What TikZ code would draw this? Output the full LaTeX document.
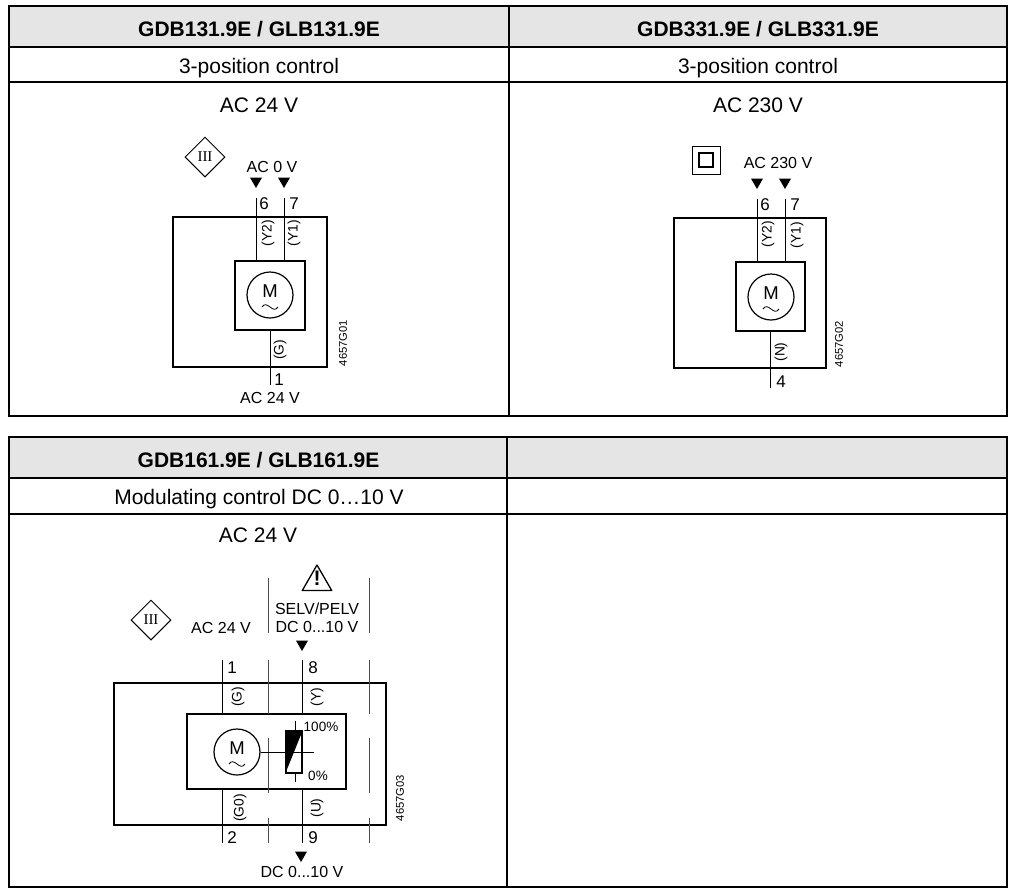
\documentclass[tikz,border=0pt]{standalone}
\usepackage{fontspec}
\setmainfont{Liberation Sans}
\newfontfamily\classfont{Liberation Serif}
\usetikzlibrary{shapes.geometric}
\definecolor{hdgrey}{gray}{0.9}
\tikzset{
  rule/.style={line width=1.8pt},
  hdtxt/.style={font=\bfseries\fontsize{21}{23}\selectfont, inner sep=0pt},
  celltxt/.style={font=\fontsize{21}{23}\selectfont, inner sep=0pt},
  lab/.style={font=\fontsize{16}{18}\selectfont, inner sep=0pt},
  num/.style={font=\fontsize{17}{19}\selectfont, inner sep=0pt},
  vlab/.style={font=\fontsize{13.8}{15}\selectfont, inner sep=0pt, rotate=90},
  idlab/.style={font=\fontsize{11.2}{13}\selectfont, inner sep=0pt, rotate=90},
  pct/.style={font=\fontsize{13.5}{15}\selectfont, inner sep=0pt},
  outerbox/.style={draw, line width=1.8pt, inner sep=0pt},
  innerbox/.style={draw, line width=1.6pt, inner sep=0pt},
  motor/.style={circle, draw, line width=1.2pt, inner sep=0pt, minimum size=46pt},
  wire/.style={line width=0.8pt},
  sep/.style={line width=0.6pt, black!70},
  feed/.style={regular polygon, regular polygon sides=3, shape border rotate=180, fill, inner sep=0pt, minimum size=14pt},
  class3/.style={diamond, draw, line width=1pt, inner sep=0pt, minimum width=40pt, minimum height=40pt, font=\classfont\fontsize{15}{15}\selectfont},
}
\begin{document}
\begin{tikzpicture}[x=1pt,y=-1pt]
\useasboundingbox (0,0) rectangle (1013,895);
% top table
\fill[hdgrey] (9,6) rectangle (1007,47);
\draw[rule] (9,6) rectangle (1007,416);
\draw[rule] (9,47) -- (1007,47);
\draw[rule] (9,82) -- (1007,82);
\draw[rule] (509,6) -- (509,416);
\node[hdtxt] (h1) at (259,29) {GDB131.9E / GLB131.9E};
\node[hdtxt] (h2) at (758,29) {GDB331.9E / GLB331.9E};
\node[celltxt] (c1) at (259,68) {3-position control};
\node[celltxt] (c2) at (758,68) {3-position control};
\node[celltxt] (v1) at (259,105) {AC 24 V};
\node[celltxt] (v2) at (758,105) {AC 230 V};
% bottom table
\fill[hdgrey] (9,437) rectangle (1007,478);
\draw[rule] (9,437) rectangle (1007,887);
\draw[rule] (9,478) -- (1007,478);
\draw[rule] (9,514) -- (1007,514);
\draw[rule] (507,437) -- (507,887);
\node[hdtxt] (h3) at (258.5,460) {GDB161.9E / GLB161.9E};
\node[celltxt] (c3) at (259,499) {Modulating control DC 0\ldots10 V};
\node[celltxt] (v3) at (258,535) {AC 24 V};
% first diagram
\node[class3] (cl1) at (205,157) {III};
\node[lab] (in1) at (272,167) {AC 0 V};
\node[feed] (t6) at (256,181) {};
\node[feed] (t7) at (284,181) {};
\node[outerbox, minimum width=154pt, minimum height=150pt] (box1) at (250,292) {};
\node[innerbox, minimum width=70pt, minimum height=69pt] (drv1) at (270,295.5) {};
\node[motor] (mot1) at (270,295) {};
\node[num, font=\fontsize{18.5}{20}\selectfont] (m1) at (270,291) {M};
\coordinate (w6) at (256,198);
\coordinate (w7) at (284,198);
\coordinate (w1) at (270,385);
\draw[wire] (w6) -- (w6 |- drv1.north);
\draw[wire] (w7) -- (w7 |- drv1.north);
\draw[wire] (drv1.south) -- (w1);
\node[num] (n6) at (264,204) {6};
\node[num] (n7) at (294,204) {7};
\node[num] (n1) at (279,380) {1};
\node[vlab] (y2) at (268,233) {(Y2)};
\node[vlab] (y1) at (294,233) {(Y1)};
\node[vlab] (g1) at (280,350) {(G)};
\node[idlab] (id1) at (343,343) {4657G01};
\node[lab] (out1) at (270,398) {AC 24 V};
% second diagram
\node[draw, line width=0.8pt, minimum size=28pt, inner sep=0pt] (cl2a) at (706,160) {};
\node[draw, line width=1.2pt, minimum size=14pt, inner sep=0pt] (cl2b) at (706,160) {};
\node[lab] (in2) at (778,163) {AC 230 V};
\node[feed] (t8) at (757,182) {};
\node[feed] (t9) at (785,182) {};
\node[outerbox, minimum width=152pt, minimum height=150pt] (box2) at (750,293) {};
\node[innerbox, minimum width=69pt, minimum height=69pt] (drv2) at (770.5,296.5) {};
\node[motor] (mot2) at (771,297) {};
\node[num, font=\fontsize{18.5}{20}\selectfont] (m2) at (771,293) {M};
\coordinate (w8) at (757,199);
\coordinate (w9) at (785,199);
\coordinate (w4) at (770,388);
\draw[wire] (w8) -- (w8 |- drv2.north);
\draw[wire] (w9) -- (w9 |- drv2.north);
\draw[wire] (w4 |- drv2.south) -- (w4);
\node[num] (n8) at (765,205) {6};
\node[num] (n9) at (795,205) {7};
\node[num] (n4) at (781,382) {4};
\node[vlab] (y4) at (768,234) {(Y2)};
\node[vlab] (y3) at (797,235) {(Y1)};
\node[vlab] (g2) at (781,352) {(N)};
\node[idlab] (id2) at (839,344) {4657G02};
% third diagram
\node[class3] (cl3) at (151,620) {III};
\node[regular polygon, regular polygon sides=3, draw, line width=1.3pt, line join=round, inner sep=0pt, minimum size=34pt] (warn) at (317,582) {};
\node[font=\bfseries\fontsize{21}{21}\selectfont, inner sep=0pt] (excl) at (317,578) {!};
\node[lab] (in3) at (221,628) {AC 24 V};
\node[lab] (sl) at (317,609) {SELV/PELV};
\node[lab] (dc1) at (317,627) {DC 0...10 V};
\node[feed] (t10) at (302,644) {};
\node[outerbox, minimum width=272pt, minimum height=142pt] (box3) at (250,754) {};
\node[innerbox, minimum width=159pt, minimum height=75pt] (drv3) at (266.5,751.5) {};
\foreach \col/\xv in {a/268,b/369}{
  \coordinate (\col1) at (\xv,578);
  \coordinate (\col2) at (\xv,633);
  \coordinate (\col3) at (\xv,660);
  \coordinate (\col4) at (\xv,714);
  \coordinate (\col5) at (\xv,738);
  \coordinate (\col6) at (\xv,793);
  \coordinate (\col7) at (\xv,818);
  \coordinate (\col8) at (\xv,843);
  \draw[sep] (\col1) -- (\col2);
  \draw[sep] (\col3) -- (\col4);
  \draw[sep] (\col5) -- (\col6);
  \draw[sep] (\col7) -- (\col8);
}
\coordinate (wa) at (222,660);
\coordinate (wb) at (302,660);
\coordinate (wc) at (222,843);
\coordinate (wd) at (302,843);
\draw[wire] (wa) -- (wa |- drv3.north);
\draw[wire] (wb) -- (wb |- drv3.north);
\draw[wire] (wc |- drv3.south) -- (wc);
\draw[wire] (wd |- drv3.south) -- (wd);
\node[motor, fill=white] (mot3) at (237,752) {};
\node[num, font=\fontsize{18.5}{20}\selectfont] (m3) at (237,748) {M};
\foreach \m in {mot1,mot2,mot3}{
  \draw[wire] ([shift={(-8,12)}]\m.center) .. controls ([shift={(-3,4)}]\m.center) and ([shift={(3,20)}]\m.center) .. ([shift={(8,12)}]\m.center);
}
\coordinate (wiper) at (314,752);
\coordinate (pt) at (295,721);
\coordinate (pb) at (295,782);
\draw[wire] (pt) -- (pb);
\node[draw, fill=white, line width=1.6pt, inner sep=0pt, minimum width=16pt, minimum height=42pt] (pot) at (294,752) {};
\fill (pot.north west) -- (pot.north east) -- (pot.south west) -- cycle;
\draw[wire] (mot3) -- (wiper);
\node[pct] (p100) at (321,727) {100\%};
\node[pct] (p0) at (318,776) {0\%};
\node[num] (n11) at (232,668) {1};
\node[num] (n18) at (313,668) {8};
\node[num] (n12) at (232,838) {2};
\node[num] (n19) at (313,838) {9};
\node[vlab] (g3) at (238,697) {(G)};
\node[vlab] (yy) at (317,697) {(Y)};
\node[vlab] (g0) at (240,808) {(G0)};
\node[vlab] (uu) at (317,808) {(U)};
\node[idlab] (id3) at (400,798) {4657G03};
\node[feed] (t11) at (301,855) {};
\node[lab] (dc2) at (302,872) {DC 0...10 V};
\end{tikzpicture}
\end{document}
